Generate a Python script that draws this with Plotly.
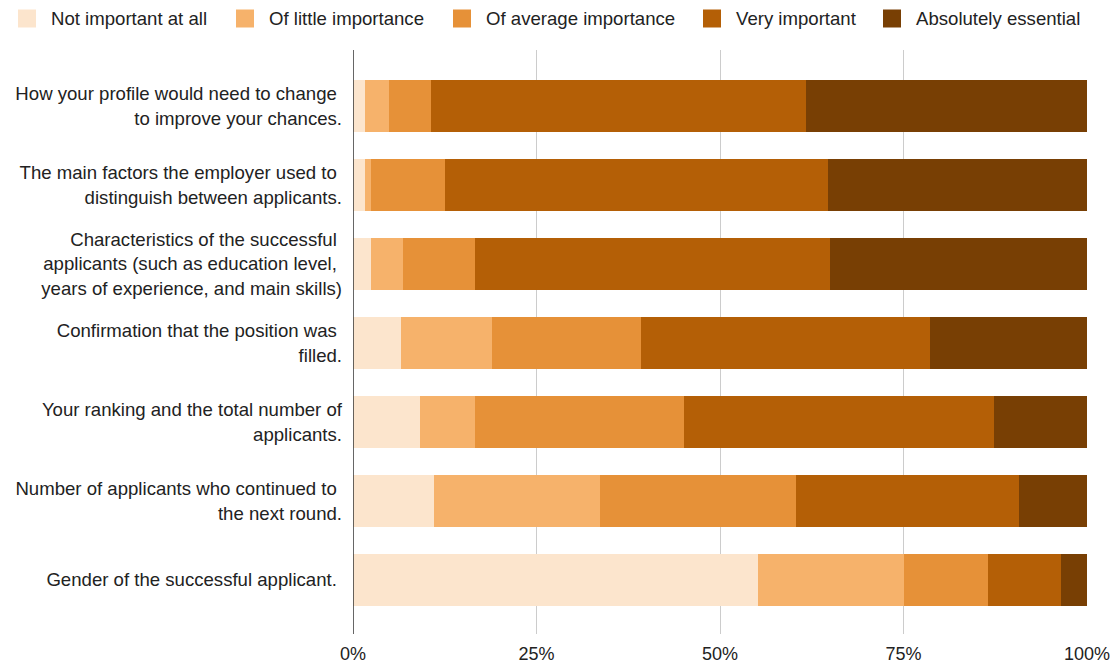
import plotly.graph_objects as go

categories = [
    "How your profile would need to change\u00a0<br>to improve your chances.",
    "The main factors the employer used to\u00a0<br>distinguish between applicants.",
    "Characteristics of the successful\u00a0<br>applicants (such as education level,\u00a0<br>years of experience, and main skills)",
    "Confirmation that the position was\u00a0<br>filled.",
    "Your ranking and the total number of<br>applicants.",
    "Number of applicants who continued to\u00a0<br>the next round.",
    "Gender of the successful applicant.\u00a0",
]

series_names = [
    "Not important at all",
    "Of little importance",
    "Of average importance",
    "Very important",
    "Absolutely essential",
]

not_important = [1.6, 1.6, 2.4, 6.5, 9.1, 11.0, 55.2]
little_importance = [3.3, 0.8, 4.4, 12.4, 7.5, 22.6, 19.9]
average_importance = [5.7, 10.1, 9.8, 20.3, 28.5, 26.8, 11.4]
very_important = [51.1, 52.2, 48.4, 39.4, 42.2, 30.4, 10.0]
absolutely_essential = [38.3, 35.3, 35.0, 21.4, 12.7, 9.2, 3.5]

colors = ["#fce5cd", "#f6b26b", "#e69138", "#b45f06", "#783f04"]
x_ticks = [0, 25, 50, 75, 100]

values = [not_important, little_importance, average_importance,
          very_important, absolutely_essential]

FONT = "Liberation Sans, Arial, Helvetica, sans-serif"
TXT = "#222222"

fig = go.Figure()
for name, vals, col in zip(series_names, values, colors):
    fig.add_trace(go.Bar(
        y=categories, x=vals, name=name, orientation="h",
        marker=dict(color=col, line=dict(width=0)),
        width=0.66, showlegend=False,
        hovertemplate="%{y}: %{x}%<extra>" + name + "</extra>",
    ))

W, H = 1112, 664
ML, MR, MT, MB = 353, 25, 50, 30
PW, PH = W - ML - MR, H - MT - MB

def px_to_paper_x(px):
    return (px - ML) / PW

def py_to_paper_y(py):
    return (H - MB - py) / PH

# manual legend (swatch + label)
legend_swatch_x = [18, 236, 453, 703, 883]
shapes = []
annotations = []
for name, col, sx in zip(series_names, colors, legend_swatch_x):
    shapes.append(dict(
        type="rect", xref="paper", yref="paper",
        x0=px_to_paper_x(sx), x1=px_to_paper_x(sx + 18),
        y0=py_to_paper_y(27.5), y1=py_to_paper_y(9.5),
        fillcolor=col, line=dict(width=0), layer="above",
    ))
    annotations.append(dict(
        text=name, xref="paper", yref="paper",
        x=px_to_paper_x(sx + 31), y=py_to_paper_y(18.5),
        xanchor="left", yanchor="middle", showarrow=False,
        font=dict(family=FONT, size=18.6, color=TXT),
    ))

fig.update_layout(
    width=W, height=H,
    barmode="stack",
    barcornerradius=2,
    bargap=0.34,
    plot_bgcolor="white", paper_bgcolor="white",
    margin=dict(l=ML, r=MR, t=MT, b=MB, autoexpand=False),
    showlegend=False,
    font=dict(family=FONT, size=18.6, color=TXT),
    shapes=shapes,
    annotations=annotations,
    xaxis=dict(
        range=[0, 100], tickvals=x_ticks,
        ticktext=[f"{v}%" for v in x_ticks],
        showgrid=True, gridcolor="#cccccc", gridwidth=1.2,
        zeroline=False, showline=False, ticks="",
        ticklabelstandoff=7,
        tickfont=dict(family=FONT, size=18, color=TXT),
        fixedrange=True,
    ),
    yaxis=dict(
        categoryorder="array", categoryarray=categories,
        range=[6.684, -0.709],
        showgrid=False, zeroline=False, ticks="",
        showline=False,
        ticklabelstandoff=10,
        tickfont=dict(family=FONT, size=18.6, color=TXT),
        fixedrange=True,
    ),
)

# dark baseline at 0%
fig.add_shape(type="line", xref="x", yref="paper", x0=0, x1=0, y0=0, y1=1,
              line=dict(color="#333333", width=1.5), layer="above")

fig.write_html(
    "out.html",
    config={"displayModeBar": False},
    post_script="document.body.style.margin='0';document.body.style.overflow='hidden';",
)
